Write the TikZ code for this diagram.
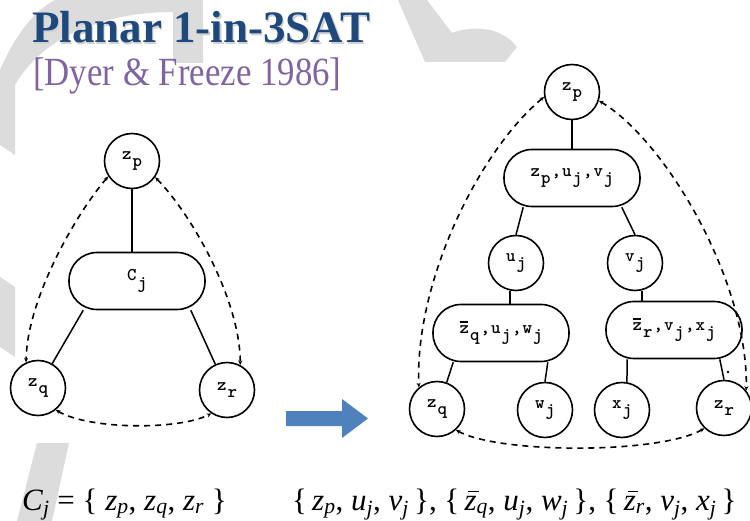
\documentclass[tikz,border=0pt]{standalone}
\usepackage{fontspec}
\setmainfont{Liberation Serif}
\usetikzlibrary{arrows.meta}
\definecolor{titleblue}{HTML}{1F497D}
\definecolor{subpurple}{HTML}{8064A2}
\definecolor{arrowblue}{HTML}{4F81BD}
\definecolor{wmgray}{HTML}{DCDCDC}
\newcommand{\tc}[1]{\makebox[10.5pt]{#1}}
\newcommand{\ts}[1]{\raisebox{-7.5pt}{\makebox[10.5pt]{#1}}}
\newcommand{\tzb}{\makebox[10.5pt]{\makebox[0pt][l]{\hspace{0.5pt}\raisebox{10.5pt}{\rule{8pt}{1.2pt}}}z}}
\newcommand{\fv}[2]{\textit{#1}\textsubscript{\textit{#2}}}
\newcommand{\fzb}[1]{\makebox[0pt][l]{\hspace{0.12em}\raisebox{0.58em}{\rule{0.34em}{0.045em}}}\textit{z}\textsubscript{\textit{#1}}}
\tikzset{
  vnode/.style={circle, draw, line width=1.6pt, minimum size=55pt, inner sep=0pt,
    font=\ttfamily\bfseries\fontsize{18}{18}\selectfont},
  cbox/.style={rectangle, rounded corners=28pt, draw, line width=1.6pt,
    minimum width=136pt, minimum height=57pt, inner sep=0pt,
    font=\ttfamily\bfseries\fontsize{18}{18}\selectfont},
  edge/.style={line width=1.5pt},
  dashedge/.style={line width=1.6pt, dash pattern=on 6pt off 5pt,
    {Stealth[length=4.5pt,width=4pt]}-{Stealth[length=4.5pt,width=4pt]}},
  wm/.style={fill=wmgray, draw=none},
  formula/.style={anchor=base west, inner sep=0pt, font=\fontsize{31}{31}\selectfont}
}
\begin{document}
\begin{tikzpicture}[x=1pt,y=-1pt]
\useasboundingbox (0,0) rectangle (750,521);
% watermark
\fill[wm] (0,70) .. controls (15,35) and (35,10) .. (55,0) -- (203,0) -- (203,63) -- (173,63)
  -- (173,12) .. controls (100,12) and (40,40) .. (15,85) -- (15,155) -- (0,145) -- cycle;
\fill[wm] (0,277) -- (15,287) -- (15,357) -- (0,347) -- cycle;
\fill[wm] (37,443) -- (69,443) -- (52,521) -- (17,521) -- cycle;
\fill[wm] (398,0) -- (427,0) -- (452,33) .. controls (470,26) and (500,25) .. (517,47)
  -- (505,62) -- (425,62) -- cycle;
% titles
\node[anchor=base west, inner sep=0pt, text=black!18, font=\fontsize{45}{45}\selectfont\bfseries]
  at (33.2,44.2) {Planar 1-in-3SAT};
\node[anchor=base west, inner sep=0pt, text=titleblue, font=\fontsize{45}{45}\selectfont\bfseries]
  (title) at (32,43) {Planar 1-in-3SAT};
\node[anchor=base west, inner sep=0pt, text=subpurple, font=\fontsize{40}{40}\selectfont]
  (sub) at (33,86) {\scalebox{0.87}[1]{[Dyer \& Freeze 1986]}};
% left diagram
\node[vnode] (zp) at (132,161) {\tc{z}\ts{p}};
\node[cbox] (cj) at (137,281) {\tc{C}\ts{j}};
\node[vnode] (zq) at (38,388) {\tc{z}\ts{q}};
\node[vnode] (zr) at (227,390) {\tc{z}\ts{r}};
\draw[edge] (zp.south) -- (zp.south |- cj.north);
\draw[edge] ([xshift=15pt]cj.south west) -- (zq);
\draw[edge] ([xshift=-15pt]cj.south east) -- (zr);
\draw[dashedge] (zp.213) .. controls (75,215) and (27,300) .. (zq.115);
\draw[dashedge] (zp.-35) .. controls (192,215) and (240,300) .. (zr.62);
\draw[dashedge] (zq.-51) .. controls (90,430) and (180,430) .. (zr.236);
% block arrow
\fill[arrowblue] (286,411) -- (342,411) -- (342,399) -- (368,418.5) -- (342,438) -- (342,426) -- (286,426) -- cycle;
% right diagram
\node[vnode] (zp2) at (572,92) {\tc{z}\ts{p}};
\node[cbox] (b1) at (572,178) {\tc{z}\ts{p}\tc{,}\tc{u}\ts{j}\tc{,}\tc{v}\ts{j}};
\node[vnode] (uj) at (516,263) {\tc{u}\ts{j}};
\node[vnode] (vj) at (635,263) {\tc{v}\ts{j}};
\node[cbox] (b2) at (501,333) {\tzb\ts{q}\tc{,}\tc{u}\ts{j}\tc{,}\tc{w}\ts{j}};
\node[cbox] (b3) at (674,330) {\tzb\ts{r}\tc{,}\tc{v}\ts{j}\tc{,}\tc{x}\ts{j}};
\node[vnode] (zq2) at (437,409) {\tc{z}\ts{q}};
\node[vnode] (wj) at (545,410) {\tc{w}\ts{j}};
\node[vnode] (xj) at (622,410) {\tc{x}\ts{j}};
\node[vnode] (zr2) at (724,408) {\tc{z}\ts{r}};
\draw[edge] (zp2.south) -- (zp2.south |- b1.north);
\draw[edge] ([xshift=20pt]b1.south west) -- (uj.north);
\draw[edge] ([xshift=-19pt]b1.south east) -- (vj.north);
\draw[edge] ([xshift=-6pt]uj.south) -- ([xshift=-6pt]uj.south |- b2.north);
\draw[edge] ([xshift=7pt]vj.south) -- ([xshift=7pt]vj.south |- b3.north);
\draw[edge] ([xshift=21pt]b2.south west) -- (zq2.70);
\draw[edge] ([xshift=-22pt]b2.south east) -- (wj.north);
\draw[edge] ([xshift=22pt]b3.south west) -- (xj.80);
\draw[edge] ([xshift=-23pt]b3.south east) -- (zr2.north);
\fill (728,372) circle (1.3pt);
\draw[dashedge] (zp2.190) .. controls (480,150) and (415,280) .. (zq2.130);
\draw[dashedge] (zp2.-18) .. controls (665,140) and (748,280) .. (zr2.38);
\draw[dashedge] (zq2.-48) .. controls (500,454) and (660,454) .. (zr2.226);
% formulas
\node[formula] (f1) at (22,510) {\fv{C}{j} = \{ \fv{z}{p}, \fv{z}{q}, \fv{z}{r} \}};
\node[formula] (f2) at (292,510) {\{\,\fv{z}{p}, \fv{u}{j}, \fv{v}{j}\,\}, \{\,\fzb{q}, \fv{u}{j}, \fv{w}{j}\,\}, \{\,\fzb{r}, \fv{v}{j}, \fv{x}{j}\,\}};
\end{tikzpicture}
\end{document}
